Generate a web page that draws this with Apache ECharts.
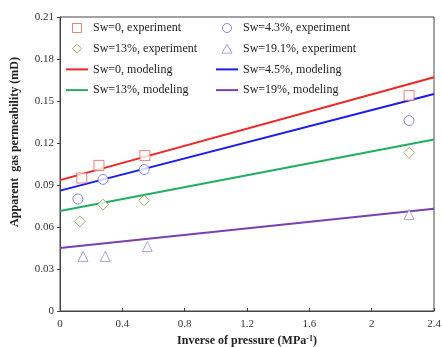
<!DOCTYPE html>
<html><head><meta charset="utf-8">
<script src="https://cdn.jsdelivr.net/npm/echarts@6/dist/echarts.min.js"></script>
<style>html,body{margin:0;padding:0;background:#fff}#c{width:442px;height:347px}</style>
</head><body><div id="c"></div>
<script>
const xTicks = [0, 0.4, 0.8, 1.2, 1.6, 2, 2.4];
const yTicks = [0, 0.03, 0.06, 0.09, 0.12, 0.15, 0.18, 0.21];

const exp0X = [0.14, 0.25, 0.545, 2.24];
const exp0Y = [0.095, 0.104, 0.111, 0.154];
const exp43X = [0.115, 0.276, 0.54, 2.24];
const exp43Y = [0.080, 0.094, 0.101, 0.136];
const exp13X = [0.128, 0.276, 0.54, 2.24];
const exp13Y = [0.064, 0.076, 0.079, 0.113];
const exp191X = [0.148, 0.29, 0.56, 2.24];
const exp191Y = [0.039, 0.039, 0.046, 0.069];

const modX = [0, 2.4];
const mod0Y = [0.0935, 0.167];
const mod45Y = [0.086, 0.155];
const mod13Y = [0.0715, 0.1225];
const mod19Y = [0.045, 0.073];

const names = ['Sw=0, experiment','Sw=4.3%, experiment','Sw=13%, experiment','Sw=19.1%, experiment',
  'Sw=0, modeling','Sw=4.5%, modeling','Sw=13%, modeling','Sw=19%, modeling'];

function zip(a, b){ return a.map((v,i)=>[v,b[i]]); }
const font = 'Liberation Serif';

const icons = {
  rect:'path://M0,0L10,0L10,10L0,10Z',
  circle:'path://M5,0A5,5,0,1,1,4.99,0Z',
  diamond:'path://M5,0L10,5L5,10L0,5Z',
  triangle:'path://M5,0L10,9L0,9Z',
  line:'path://M0,0L22,0L22,2L0,2Z'
};

function sc(name, xs, ys, symbol, color, size){
  return {name, type:'scatter', data: zip(xs, ys), symbol, symbolSize: size,
    itemStyle:{color:'#fff', borderColor:color, borderWidth:1}, z:3};
}
function ln(name, ys, color){
  return {name, type:'line', data: zip(modX, ys), symbol:'none', lineStyle:{color, width:2},
    itemStyle:{color}, z:2};
}

const chart = echarts.init(document.getElementById('c'));
const legendCommon = {orient:'vertical', itemWidth:22, itemHeight:9, itemGap:8.7, symbolKeepAspect:true,
  itemStyle:{borderWidth:1},
  textStyle:{fontFamily:font, fontSize:12, color:'#222'}, padding:0};
chart.setOption({
  animation:false,
  textStyle:{fontFamily:font},
  grid:{left:60, right:8, top:17, bottom:36, show:true, borderColor:'#444', borderWidth:1,
    containLabel:false, outerBoundsMode:'none'},
  legend:[
    Object.assign({left:66, top:22, data:[
      {name:names[0], icon:icons.rect},
      {name:names[2], icon:icons.diamond},
      {name:names[4], icon:icons.line},
      {name:names[6], icon:icons.line}]}, legendCommon),
    Object.assign({left:216, top:22, data:[
      {name:names[1], icon:icons.circle},
      {name:names[3], icon:icons.triangle},
      {name:names[5], icon:icons.line},
      {name:names[7], icon:icons.line}]}, legendCommon)
  ],
  xAxis:{type:'value', min:0, max:2.4, interval:0.4,
    axisLine:{lineStyle:{color:'#444'}}, axisTick:{inside:true, length:3, lineStyle:{color:'#444'}},
    splitLine:{show:false},
    axisLabel:{fontFamily:font, fontSize:11, color:'#333', margin:8,
      formatter:v=>String(parseFloat(v.toFixed(1)))},
    name:'Inverse of pressure (MPa{sup|-1})', nameLocation:'middle', nameGap:20,
    nameTextStyle:{fontFamily:font, fontSize:12, lineHeight:13, fontWeight:'bold', color:'#222',
      rich:{sup:{fontFamily:font, fontSize:8, lineHeight:13, fontWeight:'bold', verticalAlign:'top', color:'#222'}}}
  },
  yAxis:{type:'value', min:0, max:0.21, interval:0.03,
    axisLine:{show:true, lineStyle:{color:'#444'}}, axisTick:{show:true, length:3, lineStyle:{color:'#444'}},
    splitLine:{show:false},
    axisLabel:{fontFamily:font, fontSize:11, color:'#333', margin:6,
      formatter:v=>v===0?'0':v.toFixed(2)},
    name:'Apparent  gas permeability (mD)', nameLocation:'middle', nameGap:39,
    nameTextStyle:{fontFamily:font, fontSize:12, fontWeight:'bold', color:'#222', padding:[0,0,0,44]}
  },
  series:[
    sc(names[0], exp0X, exp0Y, 'rect', '#e8605e', 10),
    sc(names[1], exp43X, exp43Y, 'circle', '#6a6ae0', 10),
    sc(names[2], exp13X, exp13Y, 'diamond', '#8aa64a', 11),
    sc(names[3], exp191X, exp191Y, 'triangle', '#a08ac8', 10),
    ln(names[4], mod0Y, '#f02525'),
    ln(names[5], mod45Y, '#1c1cf0'),
    ln(names[6], mod13Y, '#22ae62'),
    ln(names[7], mod19Y, '#7a40b2')
  ]
});
</script></body></html>
